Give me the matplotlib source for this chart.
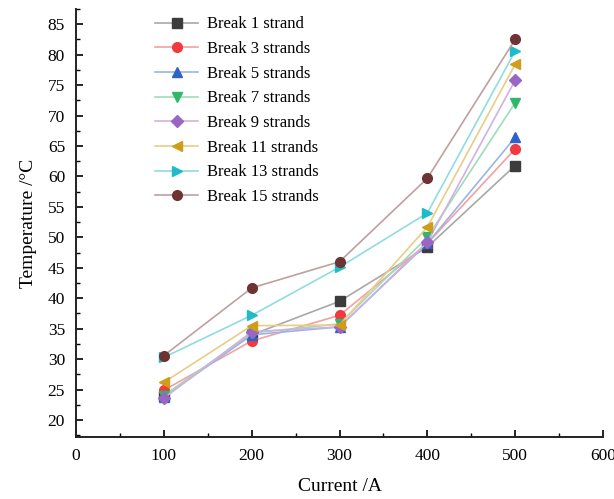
import matplotlib
matplotlib.use("Agg")
import matplotlib.pyplot as plt
from matplotlib.ticker import MultipleLocator

current = [100, 200, 300, 400, 500]

break_1 = [24.0, 34.0, 39.5, 48.4, 61.8]
break_3 = [24.9, 33.0, 37.2, 49.0, 64.5]
break_5 = [23.8, 34.0, 35.3, 49.0, 66.4]
break_7 = [24.0, 34.3, 35.8, 50.0, 72.1]
break_9 = [23.6, 34.5, 35.3, 49.2, 75.8]
break_11 = [26.2, 35.5, 35.6, 51.7, 78.4]
break_13 = [30.3, 37.2, 45.1, 54.0, 80.6]
break_15 = [30.6, 41.7, 46.0, 59.7, 82.5]

labels = ["Break 1 strand", "Break 3 strands", "Break 5 strands", "Break 7 strands",
          "Break 9 strands", "Break 11 strands", "Break 13 strands", "Break 15 strands"]
series = [break_1, break_3, break_5, break_7, break_9, break_11, break_13, break_15]

# (marker colour, lighter line colour, marker)
styles = [
    ("#3c3c3c", "#a8a8a8", "s"),
    ("#f03a3f", "#f5a0a0", "o"),
    ("#2f62c8", "#9ab4e6", "^"),
    ("#2fb86a", "#9fdcb8", "v"),
    ("#9a66c4", "#cfb2e2", "D"),
    ("#cf9d1c", "#e8cd88", "<"),
    ("#1fbcc8", "#8fdce2", ">"),
    ("#6e3434", "#bfa0a0", "o"),
]

plt.rcParams["font.family"] = ["Liberation Serif", "DejaVu Serif"]

fig = plt.figure(figsize=(6.14, 4.99), dpi=100)
ax = fig.add_axes([0.124, 0.124, 0.858, 0.858])

for vals, lab, (mc, lc, mk) in zip(series, labels, styles):
    ms = 6.2 if mk == "D" else 7
    ax.plot(current, vals, color=lc, linewidth=1.2, marker=mk, markersize=ms,
            markerfacecolor=mc, markeredgecolor=mc, label=lab)

ax.set_xlim(0, 600)
ax.set_ylim(17.2, 87.5)
ax.xaxis.set_major_locator(MultipleLocator(100))
ax.xaxis.set_minor_locator(MultipleLocator(50))
ax.yaxis.set_major_locator(MultipleLocator(5))
ax.yaxis.set_minor_locator(MultipleLocator(2.5))
ax.tick_params(which="major", direction="in", length=5, width=1.2, labelsize=12.5, pad=8)
ax.tick_params(which="minor", direction="in", length=3, width=1.0)
for spine in ("top", "right"):
    ax.spines[spine].set_visible(False)
for spine in ("left", "bottom"):
    ax.spines[spine].set_linewidth(1.4)
    ax.spines[spine].set_color("#222222")

ax.set_xlabel("Current /A", fontsize=14, labelpad=10)
ax.set_ylabel("Temperature /°C", fontsize=14, labelpad=8)

ax.legend(loc="upper left", bbox_to_anchor=(0.228, 0.997), bbox_transform=fig.transFigure,
          frameon=False, fontsize=12, handlelength=2.6, labelspacing=0.52, handletextpad=0.55)

fig.savefig("out.png", dpi=100)
